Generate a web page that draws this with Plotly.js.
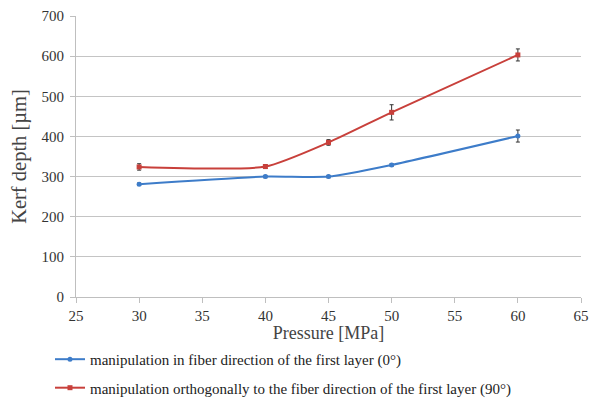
<!DOCTYPE html>
<html><head><meta charset="utf-8">
<script src="https://cdn.plot.ly/plotly-3.0.1.min.js"></script>
<style>body{margin:0;background:#fff}#c{width:604px;height:399px}</style>
</head><body><div id="c"></div>
<script>
const pressure = [30, 40, 45, 50, 60];
const depth0 = [281, 300, 300, 329, 401];
const err0 = [3, 3, 3, 3, 15];
const depth90 = [324, 325, 385, 460, 603];
const err90 = [8, 5, 7, 19, 15];
const name0 = 'manipulation in fiber direction of the first layer (0°)';
const name90 = 'manipulation orthogonally to the fiber direction of the first layer (90°)';
const font = 'Liberation Serif';
const traces = [
  {x: pressure, y: depth0, name: name0, legendgroup: 'g0', type: 'scatter', mode: 'lines+markers',
   line: {color: '#3d7cc9', width: 2, shape: 'spline', smoothing: 0.6},
   marker: {color: '#3d7cc9', size: 5, symbol: 'circle'},
   error_y: {type: 'data', array: err0, visible: true, color: '#333', thickness: 1, width: 2}},
  {x: pressure, y: depth90, name: name90, legendgroup: 'g90', type: 'scatter', mode: 'lines+markers',
   line: {color: '#c8403b', width: 2, shape: 'spline', smoothing: 0.6},
   marker: {color: '#c8403b', size: 5, symbol: 'square'},
   error_y: {type: 'data', array: err90, visible: true, color: '#333', thickness: 1, width: 2}}
];
const layout = {
  width: 604, height: 399,
  margin: {l: 76, r: 23, t: 16, b: 102},
  paper_bgcolor: '#fff', plot_bgcolor: '#fff',
  font: {family: font, size: 15, color: '#333'},
  showlegend: true,
  legend: {orientation: 'v', x: -0.0515, xanchor: 'left', yref: 'container', y: 0.1405, yanchor: 'top',
           font: {family: font, size: 15, color: '#222'}, itemwidth: 30, tracegroupgap: 6,
           bgcolor: 'rgba(0,0,0,0)'},
  xaxis: {range: [25, 65], dtick: 5, tick0: 25, showgrid: false, zeroline: false,
          showline: true, linecolor: '#bfbfbf', linewidth: 1, ticks: 'outside', ticklen: 5,
          tickcolor: '#bfbfbf', tickfont: {family: font, size: 15, color: '#333'},
          title: {text: 'Pressure [MPa]', font: {family: font, size: 18, color: '#444'}, standoff: 4}},
  yaxis: {range: [0, 700], dtick: 100, showgrid: true, gridcolor: '#c4c4c4', gridwidth: 1,
          zeroline: false, showline: true, linecolor: '#bfbfbf', linewidth: 1,
          ticks: 'outside', ticklen: 5, tickcolor: '#bfbfbf', ticklabelstandoff: 3,
          tickfont: {family: font, size: 15, color: '#333'},
          title: {text: 'Kerf depth [µm]', font: {family: font, size: 20.5, color: '#444'}, standoff: 9}}
};
Plotly.newPlot('c', traces, layout, {displayModeBar: false, staticPlot: true});
</script></body></html>
